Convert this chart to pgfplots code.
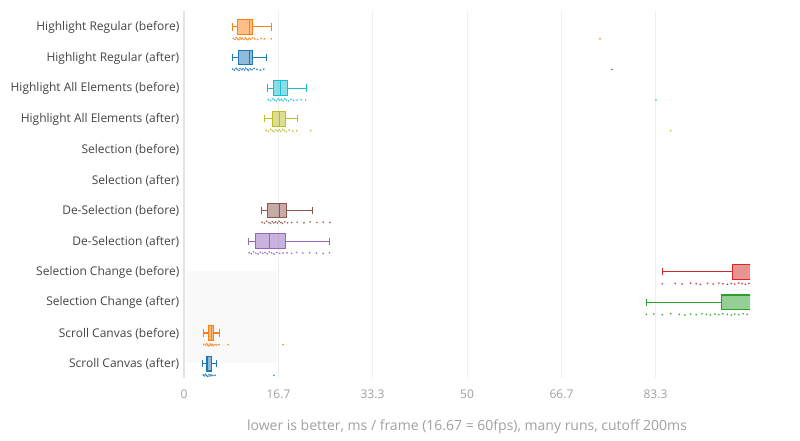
\documentclass[border=0pt]{standalone}
\usepackage{fontspec}
\setmainfont{Open Sans}
\usepackage{pgfplots}
\pgfplotsset{compat=1.18}
\usepgfplotslibrary{statistics}
\definecolor{corange}{HTML}{FF7F0E}
\definecolor{cblue}{HTML}{1F77B4}
\definecolor{ccyan}{HTML}{17BECF}
\definecolor{colive}{HTML}{BCBD22}
\definecolor{cbrown}{HTML}{8C564B}
\definecolor{cpurple}{HTML}{9467BD}
\definecolor{cred}{HTML}{D62728}
\definecolor{cgreen}{HTML}{2CA02C}
\definecolor{labgray}{HTML}{444444}
\definecolor{tickgray}{HTML}{A0A0A0}
\definecolor{gridgray}{HTML}{EEEEEE}
\pgfplotsset{
  bx/.style={draw=#1, fill=#1, fill opacity=0.5, line width=0.85pt, solid, mark=none},
  pts/.style={only marks, mark=*, mark size=0.45pt, color=#1, opacity=0.75, mark options={draw=none, fill=#1}},
}
\begin{document}
\begin{tikzpicture}
\path[use as bounding box] (0,0) rectangle (600pt,330pt);
\begin{axis}[
  at={(138pt,46.5pt)}, anchor=south west,
  scale only axis, width=424.5pt, height=275.5pt,
  xmin=0, xmax=100, ymin=-0.5, ymax=11.5,
  y dir=reverse,
  axis line style={draw=none},
  major tick length=0pt,
  xtick={0,16.7,33.3,50,66.7,83.3},
  xticklabels={0,16.7,33.3,50,66.7,83.3},
  ytick={0,1,2,3,4,5,6,7,8,9,10,11},
  yticklabels={Highlight Regular (before),Highlight Regular (after),Highlight All Elements (before),Highlight All Elements (after),Selection (before),Selection (after),De-Selection (before),De-Selection (after),Selection Change (before),Selection Change (after),Scroll Canvas (before),Scroll Canvas (after)},
  xmajorgrids, grid style={gridgray, line width=0.75pt},
  extra x ticks={0}, extra x tick labels={},
  extra x tick style={grid style={draw=gray!22, line width=1.5pt}},
  /pgf/number format/assume math mode=true,
  yticklabel style={font=\fontsize{9}{11}\selectfont, text=labgray, yshift=-1pt},
  xticklabel style={font=\fontsize{9}{11}\selectfont, text=tickgray, yshift=-5pt},
  xlabel={lower is better, ms / frame (16.67 = 60fps), many runs, cutoff 200ms},
  xlabel style={font=\fontsize{10.5}{12}\selectfont, text=tickgray, yshift=-9pt},
  clip=true,
]
% shaded background region
\addplot[draw=none, fill=black, fill opacity=0.025] coordinates {(0.6,8) (16.5,8) (16.5,11) (0.6,11)} -- cycle;

% Highlight Regular (before)
\addplot[bx=corange, boxplot prepared={lower whisker=8.6, lower quartile=9.4, median=11.5, upper quartile=12.1, upper whisker=15.4, draw position=0.03, box extend=0.48, whisker extend=0.24}] coordinates {};
\addplot[pts=corange] table {
8.7 0.40
9.0 0.44
9.2 0.38
9.5 0.42
9.7 0.45
9.9 0.39
10.1 0.43
10.3 0.40
10.6 0.44
10.8 0.38
11.0 0.42
11.3 0.45
11.5 0.40
11.8 0.43
12.1 0.39
12.5 0.42
13.0 0.44
13.6 0.41
14.2 0.42
15.4 0.42
73.5 0.42
};
% Highlight Regular (after)
\addplot[bx=cblue, boxplot prepared={lower whisker=8.5, lower quartile=9.6, median=11.5, upper quartile=12.1, upper whisker=14.5, draw position=1.03, box extend=0.48, whisker extend=0.24}] coordinates {};
\addplot[pts=cblue] table {
8.6 1.41
8.9 1.44
9.2 1.38
9.4 1.42
9.7 1.45
9.9 1.39
10.2 1.43
10.4 1.40
10.7 1.44
10.9 1.38
11.2 1.42
11.4 1.45
11.7 1.40
12.0 1.43
12.4 1.39
12.9 1.42
13.5 1.44
14.1 1.41
75.6 1.42
};
% Highlight All Elements (before)
\addplot[bx=ccyan, boxplot prepared={lower whisker=14.7, lower quartile=15.8, median=17.1, upper quartile=18.3, upper whisker=21.7, draw position=2.03, box extend=0.48, whisker extend=0.24}] coordinates {};
\addplot[pts=ccyan] table {
14.9 2.41
15.3 2.44
15.7 2.38
16.0 2.42
16.3 2.45
16.6 2.39
16.9 2.43
17.2 2.40
17.5 2.44
17.8 2.38
18.1 2.42
18.5 2.45
18.9 2.40
19.4 2.43
20.0 2.42
20.7 2.41
21.5 2.42
83.4 2.42
};
% Highlight All Elements (after)
\addplot[bx=colive, boxplot prepared={lower whisker=14.2, lower quartile=15.6, median=16.8, upper quartile=18.0, upper whisker=20.0, draw position=3.03, box extend=0.48, whisker extend=0.24}] coordinates {};
\addplot[pts=colive] table {
14.5 3.41
14.9 3.44
15.3 3.38
15.6 3.42
15.9 3.45
16.2 3.39
16.5 3.43
16.8 3.40
17.1 3.44
17.4 3.38
17.7 3.42
18.1 3.45
18.6 3.40
19.2 3.43
19.9 3.42
22.4 3.42
86.0 3.42
};
% De-Selection (before)
\addplot[bx=cbrown, boxplot prepared={lower whisker=13.7, lower quartile=14.8, median=16.8, upper quartile=18.1, upper whisker=22.7, draw position=6.03, box extend=0.48, whisker extend=0.24}] coordinates {};
\addplot[pts=cbrown] table {
13.8 6.41
14.2 6.44
14.6 6.38
15.0 6.42
15.3 6.45
15.6 6.39
15.9 6.43
16.2 6.40
16.5 6.44
16.8 6.38
17.1 6.42
17.4 6.45
17.8 6.40
18.3 6.43
19.0 6.42
20.0 6.41
21.2 6.43
22.3 6.40
23.5 6.42
24.6 6.41
25.8 6.42
};
% De-Selection (after)
\addplot[bx=cpurple, boxplot prepared={lower whisker=11.4, lower quartile=12.6, median=15.1, upper quartile=17.9, upper whisker=25.7, draw position=7.03, box extend=0.48, whisker extend=0.24}] coordinates {};
\addplot[pts=cpurple] table {
11.5 7.41
11.9 7.44
12.3 7.38
12.7 7.42
13.1 7.45
13.5 7.39
13.9 7.43
14.3 7.40
14.7 7.44
15.1 7.38
15.5 7.42
15.9 7.45
16.4 7.40
16.9 7.43
17.5 7.42
18.2 7.41
19.0 7.43
19.9 7.40
21.0 7.42
22.2 7.41
23.4 7.42
24.6 7.43
25.7 7.41
};
% Selection Change (before)
\addplot[bx=cred, boxplot prepared={lower whisker=84.5, lower quartile=96.9, median=103, upper quartile=106, upper whisker=110, draw position=8.03, box extend=0.48, whisker extend=0.24}] coordinates {};
\addplot[pts=cred] table {
84.5 8.42
86.8 8.41
88.0 8.43
89.5 8.40
90.5 8.42
91.2 8.44
92.5 8.41
93.5 8.43
94.5 8.40
95.2 8.42
96.0 8.44
96.7 8.41
97.3 8.43
98.0 8.40
98.6 8.42
99.2 8.44
99.8 8.41
};
% Selection Change (after)
\addplot[bx=cgreen, boxplot prepared={lower whisker=81.7, lower quartile=95.0, median=103, upper quartile=106, upper whisker=110, draw position=9.03, box extend=0.48, whisker extend=0.24}] coordinates {};
\addplot[pts=cgreen] table {
81.7 9.42
83.0 9.41
84.5 9.43
86.0 9.40
87.5 9.42
88.5 9.44
89.5 9.41
90.5 9.43
91.5 9.40
92.3 9.42
93.0 9.44
93.8 9.41
94.5 9.43
95.2 9.40
96.0 9.42
96.7 9.44
97.3 9.41
98.0 9.43
98.8 9.40
99.5 9.42
};
% Scroll Canvas (before)
\addplot[bx=corange, boxplot prepared={lower whisker=3.4, lower quartile=4.3, median=4.8, upper quartile=5.2, upper whisker=6.2, draw position=10.03, box extend=0.48, whisker extend=0.24}] coordinates {};
\addplot[pts=corange] table {
3.5 10.40
3.8 10.43
4.0 10.38
4.2 10.42
4.4 10.45
4.6 10.39
4.8 10.43
5.0 10.40
5.2 10.44
5.5 10.41
5.8 10.42
6.2 10.41
7.8 10.41
17.5 10.41
};
% Scroll Canvas (after)
\addplot[bx=cblue, boxplot prepared={lower whisker=3.3, lower quartile=3.9, median=4.2, upper quartile=4.9, upper whisker=5.8, draw position=11.03, box extend=0.48, whisker extend=0.24}] coordinates {};
\addplot[pts=cblue] table {
3.4 11.40
3.6 11.43
3.8 11.38
4.0 11.42
4.2 11.45
4.4 11.39
4.6 11.43
4.8 11.40
5.1 11.42
5.5 11.41
15.9 11.41
};
\end{axis}
\end{tikzpicture}
\end{document}
